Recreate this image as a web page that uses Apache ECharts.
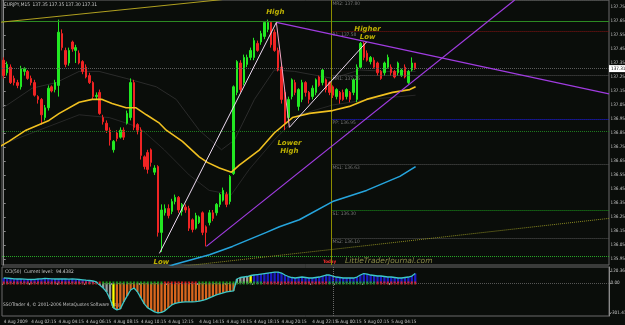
<!DOCTYPE html>
<html>
<head>
<meta charset="utf-8">
<script src="https://cdn.jsdelivr.net/npm/echarts@6/dist/echarts.min.js"></script>
<style>
  html, body { margin: 0; padding: 0; background: #0a0d0a; }
  #chart { width: 625px; height: 325px; }
</style>
</head>
<body>
<div id="chart"></div>
<script>
const NARROW = "'Liberation Sans Narrow','DejaVu Sans Condensed',sans-serif";
const N_SLOTS = 177; // bar slots across the main window (candles fill the left part)

// --- time axis
const timeLabels = ['4 Aug 2009', '4 Aug 02:15', '4 Aug 04:15', '4 Aug 06:15', '4 Aug 08:15', '4 Aug 10:15',
  '4 Aug 12:15', '4 Aug 14:15', '4 Aug 16:15', '4 Aug 18:15', '4 Aug 20:15', '4 Aug 22:15',
  '5 Aug 00:15', '5 Aug 02:15', '5 Aug 04:15'];
const timeLabelIdx = [0, 8, 16, 24, 32, 40, 48, 57, 65, 73, 81, 90, 97, 105, 113];

// --- price axis
const priceTicks = [137.75, 137.65, 137.55, 137.45, 137.35, 137.25, 137.15, 137.05, 136.95, 136.85,
  136.75, 136.65, 136.55, 136.45, 136.35, 136.25, 136.15, 136.05, 135.95];
const bidPrice = 137.31;

// --- EURJPY M15 candles: [open, close, low, high]
const candles = [
  [137.37, 137.26, 137.24, 137.39], [137.28, 137.34, 137.26, 137.36], [137.32, 137.21, 137.20, 137.34],
  [137.24, 137.21, 137.19, 137.26], [137.21, 137.19, 137.17, 137.23], [137.18, 137.31, 137.16, 137.33],
  [137.29, 137.31, 137.26, 137.32], [137.29, 137.24, 137.23, 137.30], [137.24, 137.21, 137.19, 137.26],
  [137.21, 137.12, 137.11, 137.23], [137.11, 137.09, 137.06, 137.12], [137.09, 136.98, 136.91, 137.10],
  [136.96, 137.03, 136.94, 137.05], [137.03, 137.17, 137.01, 137.19], [137.18, 137.15, 137.14, 137.19],
  [137.16, 137.21, 137.14, 137.23], [137.19, 137.57, 137.11, 137.66], [137.56, 137.46, 137.44, 137.59],
  [137.44, 137.34, 137.32, 137.46], [137.35, 137.44, 137.33, 137.46], [137.50, 137.45, 137.43, 137.51],
  [137.44, 137.46, 137.35, 137.48], [137.42, 137.35, 137.34, 137.44], [137.36, 137.29, 137.27, 137.37],
  [137.32, 137.25, 137.24, 137.34], [137.26, 137.21, 137.20, 137.28], [137.21, 137.11, 137.09, 137.22],
  [137.11, 137.12, 137.09, 137.14], [137.14, 136.99, 136.98, 137.16], [136.96, 136.93, 136.91, 136.98],
  [136.92, 136.87, 136.85, 136.94], [136.87, 136.80, 136.76, 136.89], [136.73, 136.79, 136.71, 136.80],
  [136.85, 136.81, 136.79, 136.87], [136.82, 136.87, 136.81, 136.89], [136.87, 136.82, 136.80, 136.89],
  [136.92, 136.99, 136.91, 137.01], [136.96, 137.21, 136.94, 137.24], [137.21, 136.89, 136.87, 137.23],
  [136.91, 136.87, 136.84, 136.92], [136.87, 136.69, 136.66, 136.89], [136.68, 136.61, 136.59, 136.69],
  [136.71, 136.59, 136.56, 136.73], [136.73, 136.64, 136.61, 136.74], [136.57, 136.60, 136.55, 136.62],
  [136.61, 136.14, 136.11, 136.62], [136.14, 136.30, 136.00, 136.34], [136.28, 136.31, 136.26, 136.34],
  [136.31, 136.26, 136.24, 136.34], [136.29, 136.36, 136.27, 136.38], [136.36, 136.39, 136.34, 136.41],
  [136.39, 136.30, 136.28, 136.40], [136.29, 136.34, 136.26, 136.35], [136.32, 136.30, 136.28, 136.34],
  [136.31, 136.17, 136.15, 136.33], [136.23, 136.16, 136.14, 136.24], [136.17, 136.26, 136.16, 136.28],
  [136.21, 136.25, 136.20, 136.26], [136.28, 136.14, 136.12, 136.29], [136.18, 136.14, 136.04, 136.19],
  [136.21, 136.28, 136.19, 136.30], [136.28, 136.24, 136.22, 136.30], [136.28, 136.34, 136.26, 136.35],
  [136.34, 136.41, 136.32, 136.42], [136.37, 136.44, 136.36, 136.46], [136.41, 136.34, 136.32, 136.43],
  [136.36, 136.54, 136.34, 136.55], [136.56, 137.18, 136.55, 137.19], [137.14, 137.36, 137.12, 137.37],
  [137.35, 137.16, 137.14, 137.37], [137.21, 137.39, 137.19, 137.41], [137.34, 137.39, 137.32, 137.41],
  [137.39, 137.44, 137.37, 137.46], [137.39, 137.51, 137.37, 137.53], [137.49, 137.44, 137.43, 137.51],
  [137.50, 137.56, 137.48, 137.58], [137.54, 137.64, 137.52, 137.65], [137.59, 137.64, 137.57, 137.66],
  [137.64, 137.48, 137.46, 137.64], [137.57, 137.44, 137.43, 137.59], [137.44, 137.30, 137.29, 137.46],
  [137.32, 137.09, 137.06, 137.34], [137.14, 136.92, 136.87, 137.16], [136.96, 137.09, 136.94, 137.11],
  [137.11, 137.23, 137.09, 137.24], [137.21, 137.14, 137.12, 137.23], [137.04, 137.16, 137.01, 137.17],
  [137.09, 137.21, 137.07, 137.23], [137.21, 137.14, 137.11, 137.22], [137.14, 137.09, 137.06, 137.15],
  [137.11, 137.17, 137.09, 137.19], [137.14, 137.23, 137.12, 137.24], [137.25, 137.19, 137.18, 137.26],
  [137.21, 137.30, 137.19, 137.31], [137.23, 137.16, 137.14, 137.24], [137.21, 137.14, 137.12, 137.22],
  [137.18, 137.12, 137.10, 137.19], [137.11, 137.16, 137.09, 137.17], [137.14, 137.09, 137.06, 137.15],
  [137.14, 137.09, 137.08, 137.16], [137.11, 137.16, 137.09, 137.17], [137.14, 137.09, 137.07, 137.15],
  [137.14, 137.23, 137.12, 137.24], [137.09, 137.32, 137.07, 137.34], [137.32, 137.49, 137.31, 137.50],
  [137.49, 137.39, 137.37, 137.50], [137.42, 137.37, 137.36, 137.44], [137.36, 137.39, 137.34, 137.40],
  [137.37, 137.32, 137.31, 137.39], [137.35, 137.28, 137.26, 137.36], [137.29, 137.24, 137.23, 137.30],
  [137.28, 137.35, 137.26, 137.36], [137.32, 137.39, 137.31, 137.41], [137.32, 137.28, 137.26, 137.34],
  [137.29, 137.25, 137.24, 137.30], [137.28, 137.35, 137.26, 137.36], [137.26, 137.30, 137.25, 137.31],
  [137.32, 137.25, 137.24, 137.34], [137.21, 137.29, 137.20, 137.30], [137.30, 137.35, 137.29, 137.39],
  [137.35, 137.31, 137.30, 137.35]
];

// --- moving averages, [bar position, price]
const maYellow = [[-1.4, 136.75], [1.5, 136.79], [6.5, 136.87], [13.2, 136.94], [16.2, 136.99], [22.0, 137.07],
  [25.8, 137.09], [28.7, 137.09], [31.6, 137.06], [35.7, 137.03], [38.6, 137.03], [41.6, 136.98], [45.4, 136.92],
  [47.4, 136.87], [52.1, 136.79], [57.0, 136.68], [59.4, 136.64], [62.9, 136.60], [66.4, 136.57], [68.7, 136.62],
  [74.6, 136.73], [78.9, 136.85], [84.2, 136.96], [89.2, 136.99], [95.9, 137.01], [100.8, 137.04], [105.8, 137.09],
  [113.4, 137.14], [118.4, 137.16], [120.1, 137.18]];
const maCyan = [[47.5, 135.89], [49.7, 135.91], [60.0, 135.98], [66.7, 136.04], [76.6, 136.14], [80.4, 136.18],
  [86.2, 136.23], [95.9, 136.36], [105.8, 136.44], [115.5, 136.54], [120.1, 136.61]];
const maGrayUpper = [[-1.4, 137.01], [8.3, 137.17], [15.3, 137.21], [22.0, 137.29], [27.8, 137.29], [35.7, 137.24],
  [44.5, 137.18], [50.3, 137.09], [57.0, 136.87], [63.5, 136.73], [67.3, 136.80], [73.1, 137.09], [78.9, 137.30],
  [84.8, 137.29], [95.9, 137.24], [103.8, 137.30], [111.6, 137.29], [120.1, 137.29]];
const maGrayLower = [[-1.4, 136.76], [10.3, 136.87], [22.0, 136.98], [30.8, 136.96], [39.5, 136.89], [46.8, 136.73],
  [54.1, 136.55], [59.9, 136.44], [66.4, 136.41], [71.6, 136.59], [78.9, 136.80], [86.2, 136.98], [95.9, 137.05],
  [106.7, 137.09], [120.1, 137.12]];

// --- drawn trend lines
const purpleDown = [[79.5, 137.64], [176.5, 137.13]];
const purpleUp = [[59.1, 136.04], [149.0, 137.80]];
const whiteUpA = [[45.4, 135.99], [79.5, 137.64]];
const pinkDrop = [[79.5, 137.64], [83.3, 136.89]];
const whiteUpB = [[83.3, 136.89], [105.8, 137.50]];
const oliveTop = [[-1.4, 137.64], [86.4, 137.86]];
const oliveDotted = [[52.7, 135.90], [176.5, 136.24]];

// --- levels
const fullLevels = [137.65, 136.86, 135.97];
const pivotNames = ['MR2', 'R1', 'MR1', 'PP', 'MS1', 'S1', 'MS2'];
const pivotValues = [137.80, 137.58, 137.26, 136.95, 136.63, 136.30, 136.10];
const pivotColors = ['#585858', '#8b1414', '#585858', '#2020ff', '#585858', '#1c9a1c', '#585858'];
const todayPos = 95.6;

// --- swing notes
const notes = [[79.2, 137.71, 'High'], [46.0, 135.93, 'Low'], [83.3, 136.75, 'Lower\nHigh'], [106.1, 137.56, 'Higher\nLow']];

// --- CCI(50)
const cciValues = [50, 48, 45, 42, 40, 40, 38, 36, 35, 37, 40, 42, 45, 44, 42, 40, 40, 42, 40, 38,
  40, 38, 35, 32, 28, 25, 20, 10, -20, -50, -90, -160, -250, -270, -260, -190, -130, -70, -50, -90,
  -150, -210, -250, -270, -290, -300, -295, -280, -250, -220, -205, -198, -192, -190, -190, -190, -188, -183, -175, -165,
  -150, -135, -120, -110, -100, -90, -85, -80, 40, 55, 60, 65, 75, 80, 85, 90, 95, 100, 105, 110,
  110, 100, 80, 65, 55, 50, 55, 60, 55, 50, 50, 55, 60, 70, 80, 80, 70, 60, 55, 50,
  50, 50, 50, 60, 80, 95, 90, 80, 75, 70, 70, 65, 60, 60, 55, 50, 50, 55, 60, 70, 94.44];
const cciGrayBars = [28, 29, 30, 31, 68, 69, 70, 71];
const cciYellowBars = [32, 72];
const cciTicks = [120.36, 0, -301.418];
const cciTickLabels = ['120.3600', '0.00', '-301.418'];
const zeroDotRuns = [[29, '#ff2020'], [18, '#20c020'], [10, '#ff2020'], [19, '#20c020'], [19, '#ff2020'], [14, '#20c020'], [12, '#ff2020']];

// ---------------------------------------------------------------
const categories = new Array(N_SLOTS).fill('');
timeLabelIdx.forEach((k, j) => { categories[k] = timeLabels[j]; });

const cciBars = cciValues.map((v, i) => {
  let color = v >= 0 ? '#1c1cc4' : '#d8661e';
  if (cciGrayBars.includes(i)) color = '#9a9a9a';
  if (cciYellowBars.includes(i)) color = '#ffff00';
  return { value: v, itemStyle: { color } };
});
const zeroDots = [];
zeroDotRuns.forEach(([n, c]) => {
  for (let k = 0; k < n; k++) zeroDots.push({ value: [zeroDots.length, 0], itemStyle: { color: c } });
});

const overlay = (data, color, width, type, z) => ({
  type: 'line', xAxisIndex: 1, yAxisIndex: 0, data, symbol: 'none', silent: true, z: z || 3,
  lineStyle: { color, width, type: type || 'solid' }
});

const levelLines = fullLevels.map((v, i) => ({
  yAxis: v,
  lineStyle: { color: ['#2c8a22', '#1e7a1e', '#26a826'][i], type: i === 0 ? 'solid' : 'dotted', width: 1 },
  label: { show: false }
}));
const pivotLines = pivotValues.map((v, i) => [
  {
    coord: [todayPos, v],
    lineStyle: { color: pivotColors[i], type: 'dotted', width: 1 },
    label: {
      show: true, position: 'insideStartBottom', distance: 1,
      formatter: pivotNames[i] + ': ' + v.toFixed(2),
      color: '#7a7a7a', fontSize: 4.8, fontFamily: NARROW
    }
  },
  { coord: [N_SLOTS - 0.5, v] }
]);

const AXIS_FONT = 4.6;

const chart = echarts.init(document.getElementById('chart'), null, { renderer: 'canvas' });
chart.setOption({
  backgroundColor: '#0a0d0a',
  animation: false,
  grid: [
    { left: 2, right: 16, top: 0, bottom: 60, show: true, borderColor: '#6a6a6a', borderWidth: 1,
      backgroundColor: 'transparent', outerBoundsMode: 'none', containLabel: false },
    { left: 2, right: 16, top: 267, bottom: 9, show: true, borderColor: '#6a6a6a', borderWidth: 1,
      backgroundColor: 'transparent', outerBoundsMode: 'none', containLabel: false }
  ],
  xAxis: [
    { type: 'category', gridIndex: 0, data: categories, boundaryGap: true,
      axisLine: { show: false }, axisTick: { show: false }, axisLabel: { show: false }, splitLine: { show: false } },
    { type: 'value', gridIndex: 0, min: -0.5, max: N_SLOTS - 0.5, show: false },
    { type: 'category', gridIndex: 1, data: categories, boundaryGap: true,
      axisLine: { show: false },
      axisTick: { show: true, interval: (i, v) => v !== '', length: 2, lineStyle: { color: '#8a8a8a' } },
      axisLabel: { interval: 0, align: 'left', margin: 3, color: '#c4c4c4', fontSize: AXIS_FONT, fontFamily: NARROW },
      splitLine: { show: false } }
  ],
  yAxis: [
    { type: 'value', gridIndex: 0, position: 'right', min: 135.907, max: 137.80, scale: true,
      axisLine: { show: true, lineStyle: { color: '#8a8a8a' } },
      axisTick: { show: true, customValues: priceTicks, length: 2, lineStyle: { color: '#8a8a8a' } },
      axisLabel: { customValues: priceTicks, formatter: (v) => v.toFixed(2), color: '#c4c4c4',
        fontSize: AXIS_FONT, fontFamily: NARROW, margin: 1.5 },
      splitLine: { show: false } },
    { type: 'value', gridIndex: 1, position: 'right', min: -331.5, max: 160.5,
      axisLine: { show: true, lineStyle: { color: '#8a8a8a' } },
      axisTick: { show: true, customValues: cciTicks, length: 2, lineStyle: { color: '#8a8a8a' } },
      axisLabel: { customValues: cciTicks, formatter: (v) => cciTickLabels[cciTicks.indexOf(v)] || '',
        color: '#c4c4c4', fontSize: AXIS_FONT, fontFamily: NARROW, margin: 1.5 },
      splitLine: { show: false } }
  ],
  series: [
    overlay(maGrayUpper, '#343434', 0.8, 'solid', 2),
    overlay(maGrayLower, '#2e2e2e', 0.8, 'solid', 2),
    Object.assign(overlay([[-10, 0]], '#000', 0, 'solid', 2), {
      markLine: { symbol: 'none', silent: true, animation: false,
        data: levelLines.concat(pivotLines).concat([
          { xAxis: todayPos, lineStyle: { color: '#8c8c00', type: 'solid', width: 1 }, label: { show: false } }
        ]) }
    }),
    {
      type: 'candlestick', xAxisIndex: 0, yAxisIndex: 0, data: candles, barWidth: 2, z: 4,
      itemStyle: { color: '#22e822', color0: '#f02424', borderColor: '#22e822', borderColor0: '#f02424', borderWidth: 1 },
      markLine: {
        symbol: 'none', silent: true, animation: false,
        data: [{ yAxis: bidPrice }],
        lineStyle: { color: '#5c5c5c', type: 'dotted', width: 1 },
        label: { position: 'end', distance: 0, formatter: bidPrice.toFixed(2), backgroundColor: '#ffffff',
          color: '#000000', fontSize: AXIS_FONT, fontFamily: NARROW, padding: [1, 2] }
      }
    },
    overlay(maYellow, '#f0c020', 1.6, 'solid', 5),
    overlay(maCyan, '#26a4dc', 1.6, 'solid', 5),
    overlay(oliveTop, '#b0a020', 1, 'solid', 5),
    overlay(oliveDotted, '#8a8a22', 1, 'dotted', 5),
    overlay(purpleDown, '#a03ce0', 1.2, 'solid', 6),
    overlay(purpleUp, '#a03ce0', 1.2, 'solid', 6),
    overlay(whiteUpA, '#eedcf2', 1, 'solid', 6),
    overlay(pinkDrop, '#f4a6c4', 1, 'solid', 6),
    overlay(whiteUpB, '#eedcf2', 1, 'solid', 6),
    {
      type: 'scatter', xAxisIndex: 1, yAxisIndex: 0, data: notes, symbolSize: 0, silent: true, z: 7,
      label: { show: true, position: 'inside', formatter: (p) => p.data[2], color: '#e8d800',
        fontStyle: 'italic', fontWeight: 'bold', fontSize: 7, lineHeight: 8, fontFamily: 'DejaVu Sans' }
    },
    {
      type: 'bar', xAxisIndex: 2, yAxisIndex: 1, data: cciBars, barWidth: 2.3, silent: true, z: 2,
      markLine: {
        symbol: 'none', silent: true, animation: false,
        data: [
          { yAxis: 0, lineStyle: { color: '#555555', type: 'dotted', width: 1 } },
          { xAxis: 96, lineStyle: { color: '#6a6a6a', type: 'dotted', width: 1 } }
        ],
        label: { show: false }
      }
    },
    {
      type: 'scatter', xAxisIndex: 2, yAxisIndex: 1, data: zeroDots, symbol: 'rect', symbolSize: [2, 3], silent: true, z: 3
    },
    {
      type: 'line', xAxisIndex: 2, yAxisIndex: 1, data: cciValues, symbol: 'none', silent: true, z: 4,
      lineStyle: { color: '#3cc8c8', width: 1.3 }
    }
  ],
  graphic: [
    { type: 'text', left: 4, top: 2, style: { text: 'EURJPY,M15  137.35 137.35 137.30 137.31', fill: '#d0d0d0', fontSize: 4.8, fontFamily: NARROW } },
    { type: 'text', left: 5, top: 269, style: { text: 'CCI(50)  Current level:  94.4382', fill: '#d0d0d0', fontSize: 4.8, fontFamily: NARROW } },
    { type: 'text', left: 3, top: 302, style: { text: 'SSOTrader 4, © 2001-2006 MetaQuotes Software Corp.', fill: '#c0c0c0', fontSize: 4.8, fontFamily: NARROW } },
    { type: 'text', left: 323, top: 259, style: { text: 'Today', fill: '#ff3030', fontSize: 4.5, fontWeight: 'bold', fontFamily: NARROW } },
    { type: 'text', left: 345, top: 257, style: { text: 'LittleTraderJournal.com', fill: '#8c8c48', fontSize: 7.5, fontStyle: 'italic', fontFamily: 'DejaVu Sans' } }
  ]
});
</script>
</body>
</html>
